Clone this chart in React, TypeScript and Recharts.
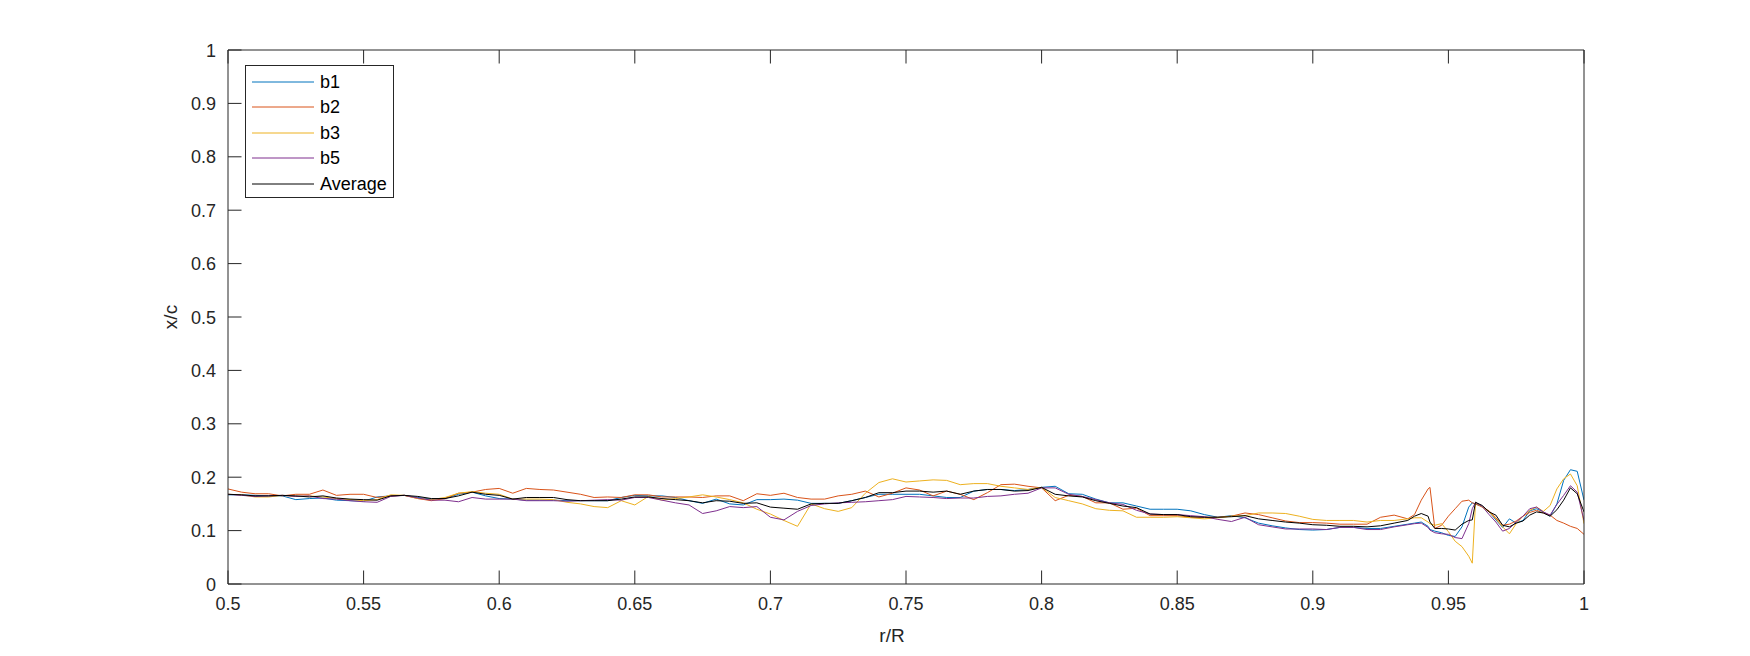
import { Legend, Line, LineChart, XAxis, YAxis } from "recharts";

// r/R sample positions (finer steps near the tip)
const R = [
  0.5, 0.505, 0.51, 0.515, 0.52, 0.525, 0.53, 0.535, 0.54, 0.545, 0.55, 0.555, 0.56, 0.565, 0.57, 0.575, 0.58, 0.585, 0.59, 0.595, 0.6,
  0.605, 0.61, 0.615, 0.62, 0.625, 0.63, 0.635, 0.64, 0.645, 0.65, 0.655, 0.66, 0.665, 0.67, 0.675, 0.68, 0.685, 0.69, 0.695, 0.7,
  0.705, 0.71, 0.715, 0.72, 0.725, 0.73, 0.735, 0.74, 0.745, 0.75, 0.755, 0.76, 0.765, 0.77, 0.775, 0.78, 0.785, 0.79, 0.795, 0.8,
  0.805, 0.81, 0.815, 0.82, 0.825, 0.83, 0.835, 0.84, 0.845, 0.85, 0.855, 0.86, 0.865, 0.87, 0.875, 0.88, 0.885, 0.89, 0.895, 0.9,
  0.905, 0.91, 0.915, 0.92, 0.925, 0.93, 0.935,
  0.9375, 0.94, 0.9425, 0.9432, 0.945, 0.9475, 0.95, 0.9525, 0.955, 0.9575, 0.9588, 0.96, 0.9625, 0.965, 0.9675, 0.97,
  0.9725, 0.975, 0.9775, 0.98, 0.9825, 0.985, 0.9875, 0.99, 0.9925, 0.995, 0.9975, 1.0,
];

const B1 = [
  0.167, 0.167, 0.166, 0.165, 0.165, 0.158, 0.16, 0.161, 0.157, 0.156, 0.155, 0.163, 0.165, 0.166, 0.162, 0.159, 0.16, 0.168, 0.172, 0.165, 0.16,
  0.159, 0.157, 0.157, 0.157, 0.156, 0.156, 0.156, 0.156, 0.162, 0.166, 0.165, 0.165, 0.162, 0.156, 0.151, 0.159, 0.15, 0.148, 0.158, 0.158,
  0.159, 0.157, 0.151, 0.151, 0.151, 0.156, 0.162, 0.168, 0.168, 0.168, 0.168, 0.165, 0.162, 0.162, 0.174, 0.177, 0.177, 0.175, 0.177, 0.181,
  0.183, 0.169, 0.168, 0.159, 0.152, 0.152, 0.146, 0.14, 0.14, 0.14, 0.137, 0.13, 0.125, 0.128, 0.124, 0.114, 0.109, 0.105, 0.102, 0.101,
  0.102, 0.106, 0.106, 0.104, 0.104, 0.108, 0.112,
  0.114, 0.116, 0.108, 0.102, 0.099, 0.096, 0.091, 0.089, 0.107, 0.144, 0.152, 0.15, 0.145, 0.135, 0.12, 0.106,
  0.122, 0.114, 0.119, 0.137, 0.141, 0.135, 0.127, 0.15, 0.194, 0.214, 0.211, 0.157,
];

const B2 = [
  0.178, 0.172, 0.169, 0.169, 0.165, 0.168, 0.168, 0.176, 0.166, 0.168, 0.168, 0.162, 0.165, 0.166, 0.16, 0.156, 0.16, 0.17, 0.172, 0.177, 0.179,
  0.17, 0.179, 0.177, 0.176, 0.172, 0.168, 0.162, 0.163, 0.162, 0.167, 0.167, 0.163, 0.163, 0.163, 0.162, 0.165, 0.165, 0.156, 0.169, 0.166,
  0.17, 0.162, 0.159, 0.159, 0.165, 0.168, 0.174, 0.163, 0.17, 0.18, 0.176, 0.165, 0.174, 0.168, 0.158, 0.171, 0.186, 0.187, 0.183, 0.18,
  0.156, 0.166, 0.164, 0.152, 0.152, 0.14, 0.142, 0.128, 0.128, 0.128, 0.125, 0.125, 0.125, 0.127, 0.133, 0.13, 0.124, 0.118, 0.115, 0.115,
  0.114, 0.112, 0.112, 0.112, 0.125, 0.129, 0.122,
  0.13, 0.157, 0.178, 0.181, 0.104, 0.11, 0.127, 0.141, 0.155, 0.157, 0.152, 0.15, 0.144, 0.137, 0.124, 0.11,
  0.112, 0.118, 0.127, 0.134, 0.138, 0.133, 0.129, 0.119, 0.114, 0.108, 0.104, 0.093,
];

const B3 = [
  0.168, 0.167, 0.163, 0.163, 0.166, 0.164, 0.165, 0.163, 0.16, 0.158, 0.156, 0.158, 0.167, 0.166, 0.16, 0.158, 0.162, 0.17, 0.173, 0.17, 0.168,
  0.159, 0.159, 0.159, 0.158, 0.153, 0.15, 0.145, 0.143, 0.156, 0.148, 0.164, 0.157, 0.16, 0.163, 0.167, 0.163, 0.158, 0.152, 0.14, 0.131,
  0.119, 0.108, 0.15, 0.141, 0.136, 0.143, 0.17, 0.19, 0.197, 0.191, 0.193, 0.195, 0.194, 0.186, 0.188, 0.188, 0.183, 0.18, 0.177, 0.181,
  0.162, 0.156, 0.15, 0.141, 0.138, 0.137, 0.125, 0.125, 0.125, 0.126, 0.124, 0.122, 0.124, 0.127, 0.128, 0.133, 0.133, 0.132, 0.127, 0.121,
  0.119, 0.119, 0.119, 0.116, 0.119, 0.119, 0.122,
  0.124, 0.124, 0.116, 0.113, 0.11, 0.113, 0.098, 0.08, 0.07, 0.052, 0.039, 0.153, 0.144, 0.135, 0.122, 0.107,
  0.094, 0.113, 0.127, 0.138, 0.144, 0.136, 0.147, 0.178, 0.197, 0.206, 0.184, 0.113,
];

const B5 = [
  0.168, 0.166, 0.164, 0.165, 0.166, 0.164, 0.165, 0.16, 0.159, 0.156, 0.154, 0.153, 0.164, 0.166, 0.161, 0.157, 0.157, 0.154, 0.162, 0.159, 0.159,
  0.159, 0.156, 0.156, 0.156, 0.155, 0.156, 0.157, 0.158, 0.157, 0.162, 0.162, 0.157, 0.152, 0.148, 0.132, 0.137, 0.145, 0.143, 0.145, 0.125,
  0.12, 0.136, 0.147, 0.15, 0.152, 0.153, 0.154, 0.156, 0.158, 0.164, 0.163, 0.162, 0.16, 0.161, 0.161, 0.164, 0.165, 0.168, 0.17, 0.18,
  0.18, 0.168, 0.164, 0.158, 0.152, 0.149, 0.138, 0.131, 0.13, 0.13, 0.128, 0.126, 0.121, 0.117, 0.125, 0.111, 0.107, 0.103, 0.103, 0.103,
  0.102, 0.106, 0.106, 0.102, 0.102, 0.107, 0.111,
  0.113, 0.114, 0.106, 0.101, 0.096, 0.094, 0.093, 0.087, 0.085, 0.113, 0.141, 0.153, 0.145, 0.13, 0.116, 0.099,
  0.104, 0.116, 0.127, 0.141, 0.144, 0.135, 0.129, 0.149, 0.166, 0.184, 0.172, 0.119,
];

const AVG = [
  0.168, 0.167, 0.165, 0.165, 0.166, 0.165, 0.163, 0.165, 0.161, 0.159, 0.158, 0.157, 0.165, 0.166, 0.164, 0.16, 0.16, 0.165, 0.172, 0.168, 0.166,
  0.159, 0.162, 0.162, 0.162, 0.158, 0.156, 0.156, 0.156, 0.159, 0.163, 0.163, 0.16, 0.158, 0.156, 0.152, 0.156, 0.155, 0.151, 0.152, 0.144,
  0.142, 0.14, 0.15, 0.151, 0.151, 0.156, 0.162, 0.171, 0.171, 0.174, 0.174, 0.172, 0.174, 0.168, 0.174, 0.177, 0.177, 0.174, 0.175, 0.181,
  0.168, 0.165, 0.163, 0.156, 0.151, 0.146, 0.143, 0.131, 0.13, 0.13, 0.126, 0.125, 0.125, 0.126, 0.128, 0.122, 0.119, 0.116, 0.114, 0.111,
  0.11, 0.108, 0.108, 0.107, 0.109, 0.114, 0.119,
  0.127, 0.132, 0.127, 0.116, 0.104, 0.104, 0.103, 0.101, 0.112, 0.119, 0.12, 0.153, 0.147, 0.135, 0.129, 0.11,
  0.107, 0.114, 0.118, 0.129, 0.135, 0.133, 0.127, 0.139, 0.157, 0.18, 0.169, 0.135,
];

const X_TICKS = [0.5, 0.55, 0.6, 0.65, 0.7, 0.75, 0.8, 0.85, 0.9, 0.95, 1];
const Y_TICKS = [0, 0.1, 0.2, 0.3, 0.4, 0.5, 0.6, 0.7, 0.8, 0.9, 1];

// matlab default line order
const SERIES = [
  { key: "b1", name: "b1", color: "#0072BD" },
  { key: "b2", name: "b2", color: "#D95319" },
  { key: "b3", name: "b3", color: "#EDB120" },
  { key: "b5", name: "b5", color: "#7E2F8E" },
  { key: "avg", name: "Average", color: "#000000" },
];

const data = R.map((r, i) => ({ r, b1: B1[i], b2: B2[i], b3: B3[i], b5: B5[i], avg: AVG[i] }));

const FONT = "'Liberation Sans', Arial, Helvetica, sans-serif";
const INK = "#262626";
const TICK_LEN = 13.5;

const fmt = (v: number) => String(v);

// inward ticks like matlab, labels outside
const BottomTick = ({ x, y, payload }: any) => (
  <g>
    <line x1={x} y1={y} x2={x} y2={y - TICK_LEN} stroke={INK} strokeWidth={1} />
    <text x={x} y={y + 26} textAnchor="middle" fill={INK} fontSize={18} fontFamily={FONT}>
      {fmt(payload.value)}
    </text>
  </g>
);
const TopTick = ({ x, y }: any) => <line x1={x} y1={y} x2={x} y2={y + TICK_LEN} stroke={INK} strokeWidth={1} />;
const LeftTick = ({ x, y, payload }: any) => (
  <g>
    <line x1={x} y1={y} x2={x + TICK_LEN} y2={y} stroke={INK} strokeWidth={1} />
    <text x={x - 12} y={y + 6.5} textAnchor="end" fill={INK} fontSize={18} fontFamily={FONT}>
      {fmt(payload.value)}
    </text>
  </g>
);
const RightTick = ({ x, y }: any) => <line x1={x} y1={y} x2={x - TICK_LEN} y2={y} stroke={INK} strokeWidth={1} />;

const LegendBox = () => (
  <div
    style={{
      boxSizing: "border-box",
      width: 149,
      height: 133,
      border: `1px solid ${INK}`,
      background: "#fff",
      paddingTop: 3,
      fontFamily: FONT,
      fontSize: 18,
      color: "#000",
    }}
  >
    {SERIES.map((s) => (
      <div key={s.key} style={{ display: "flex", alignItems: "center", height: 25.5 }}>
        <svg width={74} height={10} style={{ flex: "none" }}>
          <line x1={6} y1={5} x2={68} y2={5} stroke={s.color} strokeWidth={1} />
        </svg>
        <span style={{ lineHeight: "20px" }}>{s.name}</span>
      </div>
    ))}
  </div>
);

export default function App() {
  return (
    <div style={{ position: "absolute", left: 0, top: 0, width: 1750, height: 656, background: "#fff" }}>
      <LineChart width={1750} height={656} data={data} margin={{ top: 48, right: 164, bottom: 42, left: 168 }}>
        <XAxis
          dataKey="r"
          type="number"
          domain={[0.5, 1]}
          ticks={X_TICKS}
          interval={0}
          allowDataOverflow
          height={30}
          axisLine={{ stroke: INK }}
          tickLine={false}
          tickSize={0}
          tickMargin={0}
          tick={BottomTick}
          label={{
            content: ({ viewBox }: any) => (
              <text x={viewBox.x + viewBox.width / 2 - 14} y={viewBox.y + 58} textAnchor="middle" fill={INK} fontSize={19} fontFamily={FONT}>
                r/R
              </text>
            ),
          }}
        />
        <XAxis
          xAxisId="top"
          orientation="top"
          dataKey="r"
          type="number"
          domain={[0.5, 1]}
          ticks={X_TICKS}
          interval={0}
          allowDataOverflow
          height={2}
          axisLine={{ stroke: INK }}
          tickLine={false}
          tickSize={0}
          tickMargin={0}
          tick={TopTick}
        />
        <YAxis
          type="number"
          domain={[0, 1]}
          ticks={Y_TICKS}
          interval={0}
          width={60}
          axisLine={{ stroke: INK }}
          tickLine={false}
          tickSize={0}
          tickMargin={0}
          tick={LeftTick}
          label={{
            content: ({ viewBox }: any) => {
              const cx = viewBox.x + 2;
              const cy = viewBox.y + viewBox.height / 2;
              return (
                <text x={cx} y={cy} transform={`rotate(-90 ${cx} ${cy})`} textAnchor="middle" dominantBaseline="central" fill={INK} fontSize={19} fontFamily={FONT}>
                  x/c
                </text>
              );
            },
          }}
        />
        <YAxis
          yAxisId="right"
          orientation="right"
          type="number"
          domain={[0, 1]}
          ticks={Y_TICKS}
          interval={0}
          width={2}
          axisLine={{ stroke: INK }}
          tickLine={false}
          tickSize={0}
          tickMargin={0}
          tick={RightTick}
        />
        <Legend
          layout="horizontal"
          verticalAlign="middle"
          align="center"
          content={LegendBox}
          wrapperStyle={{ left: 245, top: 65, width: 149, height: 133 }}
        />
        {SERIES.map((s) => (
          <Line
            key={s.key}
            type="linear"
            dataKey={s.key}
            name={s.name}
            stroke={s.color}
            strokeWidth={1}
            dot={false}
            activeDot={false}
            isAnimationActive={false}
          />
        ))}
      </LineChart>
    </div>
  );
}
